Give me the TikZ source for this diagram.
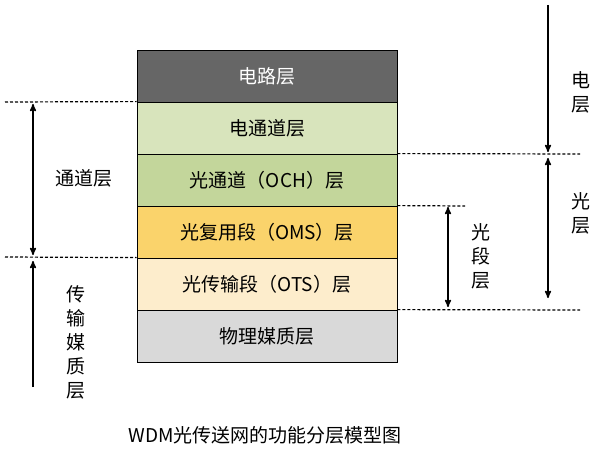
\documentclass[tikz,border=0pt]{standalone}
\usepackage{fontspec}
\setmainfont{Noto Sans CJK SC}
\usetikzlibrary{arrows}
\definecolor{cdark}{HTML}{666666}
\definecolor{cgreenA}{HTML}{D8E4BC}
\definecolor{cgreenB}{HTML}{C3D69B}
\definecolor{cyellow}{HTML}{FAD36B}
\definecolor{ccream}{HTML}{FDEDCC}
\definecolor{cgray}{HTML}{D9D9D9}
\tikzset{
  layer/.style={draw=black, line width=0.8pt, minimum width=260pt, minimum height=52pt, inner sep=0, font=\fontsize{19}{19}\selectfont},
  guide/.style={line width=1.2pt, densely dashed},
  span/.style={line width=1.5pt, ->, >=stealth'},
  tag/.style={font=\fontsize{19}{24}\selectfont, align=center}
}
\begin{document}
\begin{tikzpicture}[x=1pt,y=-1pt]
\useasboundingbox (0,0) rectangle (601,454);

% stacked layers
\node[layer, fill=cdark, text=white] (l1) at (267,76) {电路层};
\node[layer, fill=cgreenA] (l2) at (267,128) {电通道层};
\node[layer, fill=cgreenB] (l3) at (267,180) {光通道（OCH）层};
\node[layer, fill=cyellow] (l4) at (267,232) {光复用段（OMS）层};
\node[layer, fill=ccream] (l5) at (267,284) {光传输段（OTS）层};
\node[layer, fill=cgray] (l6) at (267,336) {物理媒质层};

% dashed guides
\coordinate (g1) at (5,102);
\coordinate (g2) at (5,257);
\coordinate (g3) at (580,154);
\coordinate (g4) at (465,206);
\coordinate (g5) at (580,310);
\draw[guide] (g1) -- (l2.north west);
\draw[guide] (g2) -- (l5.north west);
\draw[guide] (l3.north east) -- (g3);
\draw[guide] (l4.north east) -- (g4);
\draw[guide] (l6.north east) -- (g5);

% arrows
\coordinate (a1) at (33,104);
\coordinate (a2) at (33,255);
\coordinate (a3) at (33,387);
\coordinate (a4) at (33,261);
\draw[span, <->] (a1) -- (a2);
\draw[span] (a3) -- (a4);
\coordinate (b1) at (548,5);
\coordinate (b2) at (548,152);
\coordinate (b3) at (548,158);
\coordinate (b4) at (548,298);
\draw[span] (b1) -- (b2);
\draw[span, <->] (b3) -- (b4);
\coordinate (c1) at (448,207);
\coordinate (c2) at (448,307);
\draw[span, <->] (c1) -- (c2);

% labels
\node[tag] (t1) at (84,178) {通道层};
\node[tag] (t2) at (76,342) {传\\输\\媒\\质\\层};
\node[tag] (t3) at (581,92) {电\\层};
\node[tag] (t4) at (581,213) {光\\层};
\node[tag] (t5) at (481,256) {光\\段\\层};
\node[tag] (cap) at (265,435) {WDM光传送网的功能分层模型图};
\end{tikzpicture}
\end{document}
